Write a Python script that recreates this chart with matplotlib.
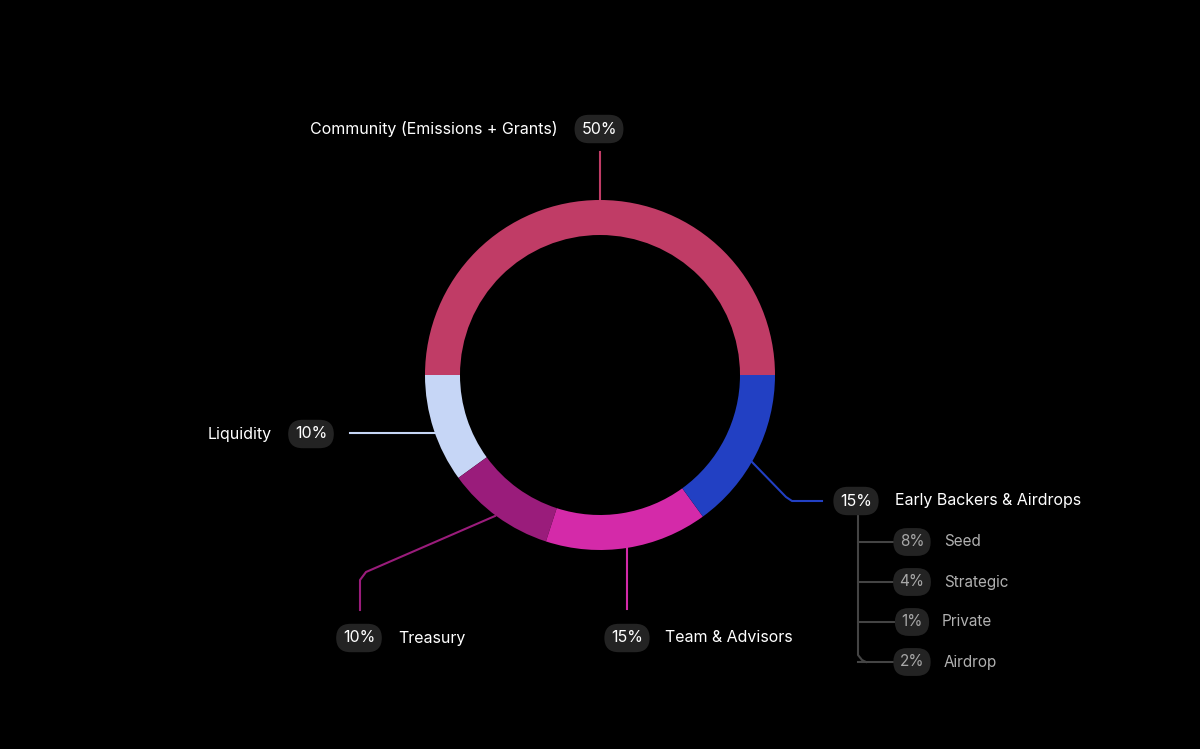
import matplotlib
matplotlib.use("Agg")
import matplotlib.pyplot as plt

plt.rcParams['font.family'] = ['Inter', 'DejaVu Sans']

labels = ["Community (Emissions + Grants)", "Liquidity", "Treasury", "Team & Advisors", "Early Backers & Airdrops"]
values = [50, 10, 10, 15, 15]
colors = ["#C03C66", "#C6D6F6", "#9A1C7B", "#D42AA9", "#2240C3"]
sub_labels = ["Seed", "Strategic", "Private", "Airdrop"]
sub_values = [8, 4, 1, 2]

W, H = 1200, 749
fig = plt.figure(figsize=(12, 7.49), dpi=100, facecolor="black")

# overlay axes in pixel coords
ov = fig.add_axes([0, 0, 1, 1])
ov.set_xlim(0, W); ov.set_ylim(H, 0); ov.axis("off")
ov.set_facecolor("black")

# donut
cx, cy, R = 600, 375, 175
pax = fig.add_axes([(cx - R) / W, (H - cy - R) / H, 2 * R / W, 2 * R / H])
pax.pie(values, colors=colors, startangle=0, counterclock=True, radius=1,
        wedgeprops=dict(width=0.2, linewidth=0))
pax.set_xlim(-1, 1); pax.set_ylim(-1, 1); pax.axis("off")

pill = "#232323"
def pill_text(x, y, s, color="white", size=11.5):
    ov.text(x, y, s, ha="center", va="center", color=color, fontsize=size,
            bbox=dict(boxstyle="round,pad=0.42,rounding_size=0.9", fc=pill, ec="none"))

def lab(x, y, s, ha="left", color="white", size=11.5):
    ov.text(x, y, s, ha=ha, va="center", color=color, fontsize=size)

# Community
ov.plot([600, 600], [152, 201], color=colors[0], lw=1.5)
lab(558, 129, labels[0], ha="right")
pill_text(599, 129, f"{values[0]}%")
# Liquidity
ov.plot([350, 437], [433, 433], color=colors[1], lw=1.5)
lab(272, 434, labels[1], ha="right")
pill_text(311, 434, f"{values[1]}%")
# Treasury
ov.plot([495, 366, 360, 360], [516, 572, 580, 610], color=colors[2], lw=1.5)
pill_text(359, 638, f"{values[2]}%")
lab(398, 638, labels[2])
# Team
ov.plot([627, 627], [545, 609], color=colors[3], lw=1.5)
pill_text(627, 638, f"{values[3]}%")
lab(665, 638, labels[3])
# Early backers
ov.plot([752, 786, 792, 822], [462, 497, 501, 501], color=colors[4], lw=1.5)
pill_text(856, 501, f"{values[4]}%")
lab(895, 501, labels[4])

# tree
ys = [542, 582, 622, 662]
ov.plot([858, 858, 862, 866], [515, 655, 660, 662], color="#444444", lw=1.5)
for y, s, v in zip(ys, sub_labels, sub_values):
    ov.plot([858, 895], [y, y], color="#444444", lw=1.5)
    pill_text(912, y, f"{v}%", color="#a8a8a8", size=11)
    lab(944 if s != "Private" else 942, y, s, color="#b0b0b0", size=11)

fig.savefig("out.png", dpi=100, facecolor="black")
